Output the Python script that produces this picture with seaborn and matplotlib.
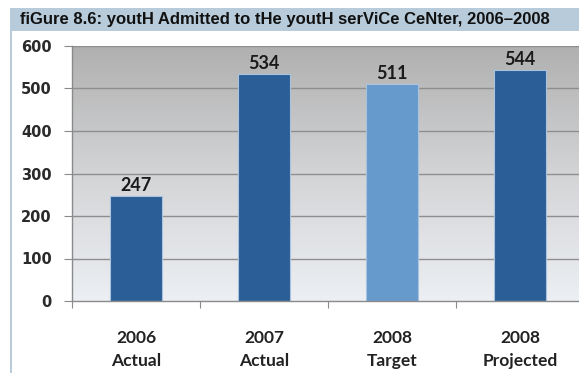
import numpy as np
import matplotlib
matplotlib.use("Agg")
import matplotlib.pyplot as plt
from matplotlib.colors import LinearSegmentedColormap
from matplotlib.patches import Rectangle
import seaborn as sns

# Youth admitted to the Youth Service Center
categories = ["2006\nActual", "2007\nActual", "2008\nTarget", "2008\nProjected"]
admitted = [247, 534, 511, 544]
bar_colors = ["#2b5e97", "#2b5e97", "#6699cc", "#2b5e97"]
y_ticks = [0, 100, 200, 300, 400, 500, 600]
title = "fiGure 8.6: youtH Admitted to tHe youtH serViCe CeNter, 2006\u20132008"

sns.set_theme(style="white")
plt.rcParams["font.family"] = ["Lato", "DejaVu Sans"]

W, H = 579, 373
fig = plt.figure(figsize=(W / 100, H / 100), dpi=100)
fig.patch.set_facecolor("white")

# title band and left frame line
fig.patches.append(Rectangle((10 / W, 1 - 31 / H), 1, 23 / H, transform=fig.transFigure,
                             facecolor="#b8cbda", edgecolor="none", zorder=0))
fig.patches.append(Rectangle((10 / W, 0), 2.2 / W, 1 - 31 / H, transform=fig.transFigure,
                             facecolor="#b8cbda", edgecolor="none", zorder=0))
fig.text(20 / W, 1 - 19.5 / H, title, fontsize=12, fontweight="bold",
         family=["Liberation Sans", "DejaVu Sans"], color="#111111", va="center", ha="left")

ax = fig.add_axes([72 / W, 72 / H, 507 / W, 255 / H])

# gray-to-light vertical gradient behind the plot
grad = LinearSegmentedColormap.from_list("bg", ["#eceff3", "#d3d4d6", "#b0b0b0"])
ax.imshow(np.linspace(0, 1, 256).reshape(-1, 1), cmap=grad, origin="lower",
          extent=[-0.5, 3.5, 0, 600], aspect="auto", zorder=0)

sns.barplot(x=categories, y=admitted, hue=categories, palette=bar_colors,
            legend=False, width=0.4, ax=ax, edgecolor="#a9c3df", linewidth=0.8,
            zorder=2, saturation=1)

for i, v in enumerate(admitted):
    ax.text(i, v + 4, f"{v}", ha="center", va="bottom", fontsize=13,
            fontweight="bold", color="#1a1a1a")

ax.set_xlim(-0.5, 3.46)
ax.set_ylim(0, 600)
ax.set_yticks(y_ticks)
ax.set_yticklabels([str(t) for t in y_ticks], fontsize=10.5, fontweight="bold",
                   color="#2a2a2a", family="DejaVu Sans")
ax.set_xticks(range(len(categories)))
ax.set_xticklabels(categories, fontsize=12.5, fontweight="bold", color="#222222", linespacing=1.55)
ax.set_xticks([-0.5, 0.5, 1.5, 2.5], minor=True)

for t in y_ticks[1:]:
    ax.axhline(t, color="#8e8e8e", linewidth=1.0, zorder=1)

ax.tick_params(axis="y", which="major", length=6, width=0.8, color="#8a8a8a", pad=8.5, left=True)
ax.tick_params(axis="x", which="major", length=0, pad=21)
ax.tick_params(axis="x", which="minor", length=5, width=0.8, color="#8a8a8a", bottom=True)

for side in ["top", "right"]:
    ax.spines[side].set_visible(False)
for side in ["left", "bottom"]:
    ax.spines[side].set_color("#8a8a8a")
    ax.spines[side].set_linewidth(1.0)

ax.set_xlabel("")
ax.set_ylabel("")

fig.savefig("out.png", dpi=100, facecolor="white")
